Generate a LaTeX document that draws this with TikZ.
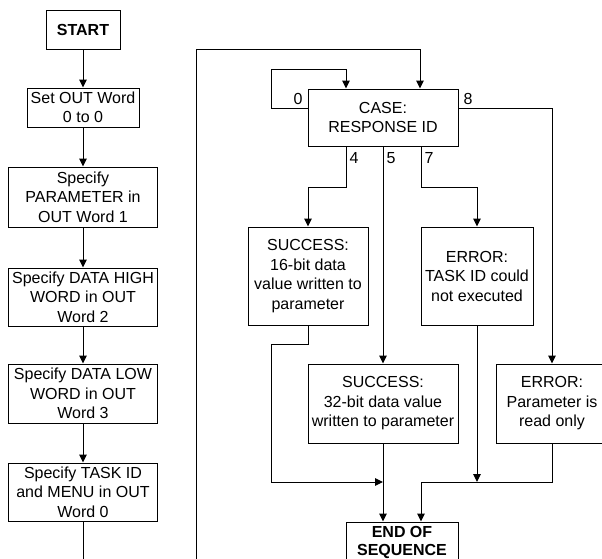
\documentclass[tikz,border=0pt]{standalone}
\usepackage{fontspec}
\setmainfont{Liberation Sans}
\usetikzlibrary{arrows.meta}
\begin{document}
\begin{tikzpicture}[x=1pt,y=-1pt,
  line width=1pt,
  box/.style={draw, align=center, inner sep=0pt, font=\fontsize{16}{19.5}\selectfont},
  bbox/.style={box, font=\fontsize{16}{18}\selectfont\bfseries},
  arr/.style={-{Triangle[length=8pt,width=7.5pt]}},
  lbl/.style={font=\fontsize{16}{19.5}\selectfont, inner sep=0pt}]
\useasboundingbox (0,0) rectangle (602,558);
\clip (0,0) rectangle (602,558);

% left column: preparing the request
\node[bbox, minimum width=74pt, minimum height=39pt] (start) at (83,29.5) {START};
\node[box, minimum width=112pt, minimum height=39pt] (setout) at (83,107.5) {Set OUT Word\\0 to 0};
\node[box, minimum width=149pt, minimum height=60pt] (param) at (83,197) {Specify\\PARAMETER in\\OUT Word 1};
\node[box, minimum width=149pt, minimum height=58pt] (high) at (83,297) {Specify DATA HIGH\\WORD in OUT\\Word 2};
\node[box, minimum width=149pt, minimum height=59pt] (low) at (83,393.5) {Specify DATA LOW\\WORD in OUT\\Word 3};
\node[box, minimum width=149pt, minimum height=58pt] (task) at (83,492) {Specify TASK ID\\and MENU in OUT\\Word 0};
\coordinate (taskend) at (83,562);

\draw[arr] (start) -- (setout);
\draw[arr] (setout) -- (param);
\draw[arr] (param) -- (high);
\draw[arr] (high) -- (low);
\draw[arr] (low) -- (task);
\draw (task) -- (taskend);

% response evaluation
\node[box, minimum width=150pt, minimum height=57pt] (case) at (383,117.5) {CASE:\\RESPONSE ID};
\node[box, minimum width=120pt, minimum height=98pt] (s16) at (308,276) {SUCCESS:\\16-bit data\\value written to\\parameter};
\node[box, minimum width=112pt, minimum height=98pt] (etask) at (477,276) {ERROR:\\TASK ID could\\not executed};
\node[box, minimum width=150pt, minimum height=79pt] (s32) at (383,403.5) {SUCCESS:\\32-bit data value\\written to parameter};
\node[box, minimum width=112pt, minimum height=79pt] (ero) at (552,403.5) {ERROR:\\Parameter is\\read only};
\node[bbox, minimum width=112pt, minimum height=40pt] (end) at (402,542) {END OF\\SEQUENCE};

% bend points
\coordinate (lb) at (196,562);
\coordinate (lt) at (420,49);
\coordinate (c0a) at (271,108);
\coordinate (c0b) at (346,69);
\coordinate (c8) at (552,108);
\coordinate (c4) at (346,187);
\coordinate (c7) at (421,187);
\coordinate (j1) at (271,344);
\coordinate (m1) at (383,482);
\coordinate (m2) at (477,482);
\coordinate (m3) at (421,482);

% return loop into the case block
\draw[arr] (lb) |- (lt) -- (case.north -| lt);
% case 0: repeat
\draw[arr] (case.west |- c0a) -- (c0a) |- (c0b) -- (case.north -| c0b);
% case 8
\draw[arr] (case.east |- c8) -- (c8) -- (ero.north);
% cases 4, 5, 7
\draw[arr] (case.south -| c4) -- (c4) -| (s16.north);
\draw[arr] (case.south) -- (s32.north);
\draw[arr] (case.south -| c7) -- (c7) -| (etask.north);

% into end of sequence
\draw[arr] (s16.south) |- (j1) |- (m1);
\draw[arr] (s32.south) -- (end.north -| s32.south);
\draw[arr] (etask.south) -- (m2);
\draw[arr] (ero.south) |- (m3) -- (end.north -| m3);

% case labels
\node[lbl] (l0) at (298,99) {0};
\node[lbl] (l8) at (468,99) {8};
\node[lbl] (l4) at (354,158) {4};
\node[lbl] (l5) at (391,158) {5};
\node[lbl] (l7) at (429,158) {7};
\end{tikzpicture}
\end{document}
